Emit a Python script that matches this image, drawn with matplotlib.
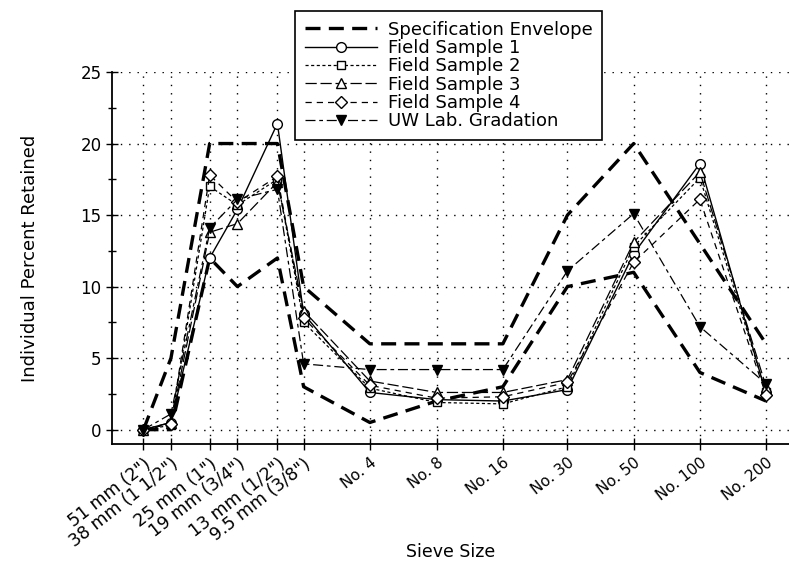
import matplotlib
matplotlib.use("Agg")
import matplotlib.pyplot as plt
from matplotlib.ticker import FixedLocator, MultipleLocator, NullLocator

# sieve openings (mm) and their labels
sieve_mm = [50.8, 38.1, 25.4, 19.0, 12.5, 9.5, 4.75, 2.36, 1.18, 0.60, 0.30, 0.15, 0.075]
sieve_labels = ['51 mm (2")', '38 mm (1 1/2")', '25 mm (1")', '19 mm (3/4")',
                '13 mm (1/2")', '9.5 mm (3/8")', 'No. 4', 'No. 8', 'No. 16',
                'No. 30', 'No. 50', 'No. 100', 'No. 200']

# specification envelope (upper / lower)
spec_upper = [0, 5, 20, 20, 20, 10, 6, 6, 6, 15, 20, 13, 6]
spec_lower = [0, 0, 12, 10, 12, 3, 0.5, 2, 3, 10, 11, 4, 2]

# individual percent retained
field_1 = [0, 0.5, 12.0, 15.4, 21.4, 8.1, 2.6, 2.1, 2.0, 2.8, 12.3, 18.6, 2.5]
field_2 = [0, 0.3, 17.0, 15.7, 17.5, 7.5, 2.9, 1.9, 1.8, 3.0, 12.8, 17.6, 2.6]
field_3 = [0, 0.5, 13.8, 14.4, 17.3, 8.3, 3.4, 2.6, 2.6, 3.5, 13.1, 18.0, 3.0]
field_4 = [0, 0.4, 17.8, 15.9, 17.7, 7.8, 3.1, 2.2, 2.3, 3.3, 11.7, 16.1, 2.4]
uw_lab = [0, 1.1, 14.1, 16.1, 16.8, 4.6, 4.2, 4.2, 4.2, 11.1, 15.1, 7.2, 3.2]

fig = plt.figure(figsize=(7.89, 5.67), dpi=100)
ax = fig.add_axes([0.142, 0.217, 0.858, 0.656])

ax.plot(sieve_mm, spec_upper, color='black', lw=2.4, ls=(0, (4.5, 2.5)),
        label='Specification Envelope', zorder=2)
ax.plot(sieve_mm, spec_lower, color='black', lw=2.4, ls=(0, (4.5, 2.5)), zorder=2)

ax.plot(sieve_mm, field_1, color='black', lw=1.0, ls='-', marker='o', ms=7,
        mfc='white', mec='black', label='Field Sample 1', zorder=3)
ax.plot(sieve_mm, field_2, color='black', lw=0.9, ls=(0, (2.5, 2)), marker='s', ms=6,
        mfc='white', mec='black', label='Field Sample 2', zorder=3)
ax.plot(sieve_mm, field_3, color='black', lw=0.9, ls=(0, (9, 3)), marker='^', ms=7,
        mfc='white', mec='black', label='Field Sample 3', zorder=3)
ax.plot(sieve_mm, field_4, color='black', lw=0.9, ls=(0, (5, 4)), marker='D', ms=6.5,
        mfc='white', mec='black', label='Field Sample 4', zorder=3)
ax.plot(sieve_mm, uw_lab, color='black', lw=0.9, ls=(0, (8, 3, 3, 3)), marker='v', ms=7,
        mfc='black', mec='black', label='UW Lab. Gradation', zorder=4)

ax.set_xscale('log')
ax.set_xlim(70.6, 0.059)
ax.set_ylim(-1, 25)

# ticks
ax.yaxis.set_major_locator(MultipleLocator(5))
ax.yaxis.set_minor_locator(MultipleLocator(2.5))
ax.tick_params(axis='both', which='major', direction='inout', length=8, width=1, labelsize=12)
ax.tick_params(axis='y', which='minor', direction='inout', length=6, width=1)
ax.tick_params(axis='x', pad=4)

ax.xaxis.set_major_locator(FixedLocator(sieve_mm))
ax.xaxis.set_minor_locator(NullLocator())
ax.set_xticklabels(sieve_labels, rotation=38, ha='right', rotation_mode='anchor', fontsize=11)
# the metric labels are set wider in the original
for lab in ax.get_xticklabels()[:6]:
    lab.set_fontsize(12.5)

ax.grid(True, which='major', color='black', lw=1.0, ls=(0, (1, 5)))
for s in ['top', 'right']:
    ax.spines[s].set_visible(False)
for s in ['left', 'bottom']:
    ax.spines[s].set_linewidth(1.3)

ax.set_xlabel('Sieve Size', fontsize=12.5)
ax.xaxis.set_label_coords(0.5, -0.265)
ax.set_ylabel('Individual Percent Retained', fontsize=13)
ax.yaxis.set_label_coords(-0.108, 0.5)

leg = fig.legend(loc='upper left', bbox_to_anchor=(0.362, 0.997), fontsize=13,
                 frameon=True, fancybox=False, edgecolor='black', framealpha=1,
                 handlelength=4.0, labelspacing=0.02, borderpad=0.55, handletextpad=0.6)
leg.get_frame().set_linewidth(1.2)

fig.savefig('out.png', dpi=100)
